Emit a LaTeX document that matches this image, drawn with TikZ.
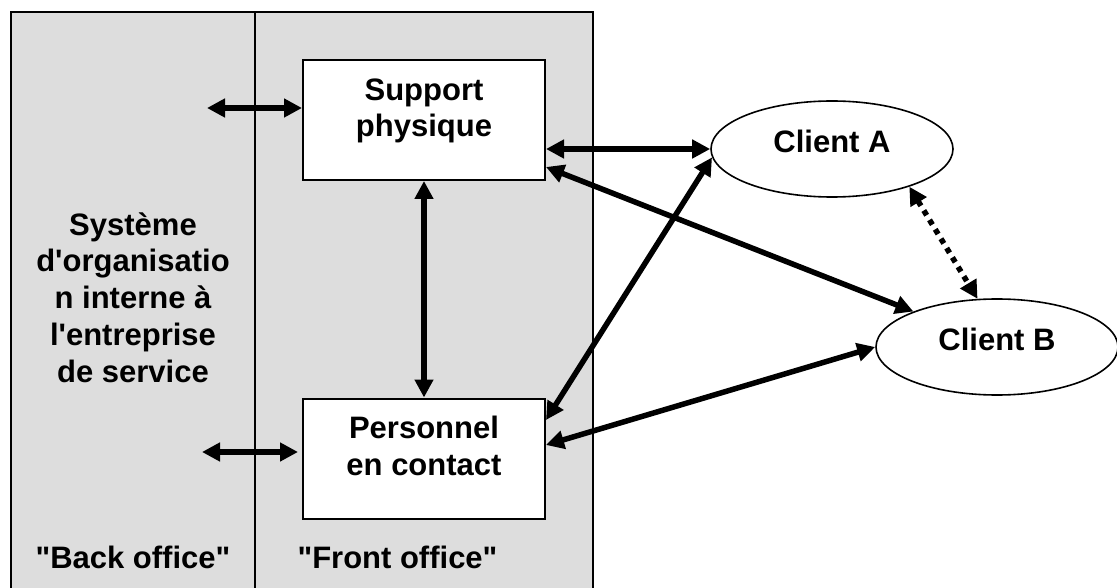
\documentclass[tikz,border=0pt]{standalone}
\usepackage{fontspec}
\setmainfont{Liberation Sans}
\usetikzlibrary{arrows.meta,shapes.geometric,calc}
\definecolor{officegray}{RGB}{221,221,221}
\tikzset{
  lbl/.style={font=\bfseries\fontsize{31}{36.75}\selectfont, align=center, inner sep=0pt, anchor=base},
  boxnode/.style={draw, line width=2pt, fill=white, minimum width=242pt, minimum height=120pt, inner sep=0pt},
  clientnode/.style={draw, line width=1.6pt, fill=white, ellipse, minimum width=242pt, minimum height=96pt, inner sep=0pt},
  link/.style={line width=5.5pt, {Triangle[length=18pt,width=18pt]}-{Triangle[length=18pt,width=18pt]}},
  dotlink/.style={line width=5.5pt, dash pattern=on 5.5pt off 5.5pt, {Triangle[length=18pt,width=18pt]}-{Triangle[length=18pt,width=18pt]}}
}
\begin{document}
\begin{tikzpicture}[x=1pt,y=-1pt]
\useasboundingbox (0,0) rectangle (1117,588);
% back office / front office panel
\draw[line width=2pt, fill=officegray] (11,12) -- (593,12) -- (593,600) -- (11,600) -- cycle;
\draw[line width=1.5pt] (255,12) -- (255,600);

% boxes and clients
\node[boxnode] (sp) at (424,120) {};
\node[boxnode] (pe) at (424,458.5) {};
\node[clientnode] (ca) at (832,149) {};
\node[clientnode] (cb) at (997,347) {};

% texts (base = baseline of the last line)
\node[lbl] (sptext) at (424,137) {Support\\physique};
\node[lbl] (petext) at (424,475) {Personnel\\en contact};
\node[lbl] (catext) at (832,152.7) {Client A};
\node[lbl] (cbtext) at (997,350.7) {Client B};
\node[lbl] (systext) at (133,382) {Système\\d\textquotesingle organisatio\\n interne à\\l\textquotesingle entreprise\\de service};
\node[lbl] (back) at (133,568) {\textquotedbl Back office\textquotedbl};
\node[lbl] (front) at (397.5,568) {\textquotedbl Front office\textquotedbl};

% free ends of the back office links
\coordinate (bo1) at (207,108);
\coordinate (bo2) at (202,452);

% connectors
\draw[link] (bo1) -- ([yshift=12pt]sp.west);
\draw[link, shorten >=4pt] (bo2) -- ([yshift=6.5pt]pe.west);
\draw[link] (sp.south) -- (pe.north);
\draw[link] (sp.east |- ca.west) -- (ca.west);
\draw[link] ([yshift=-47pt]sp.east) -- (cb.157);
\draw[link] ([yshift=38.5pt]pe.east) -- (ca.184);
\draw[link] ([yshift=13.5pt]pe.east) -- (cb.west);
\draw[dotlink] (ca.-26) -- (cb.112);
\end{tikzpicture}
\end{document}
